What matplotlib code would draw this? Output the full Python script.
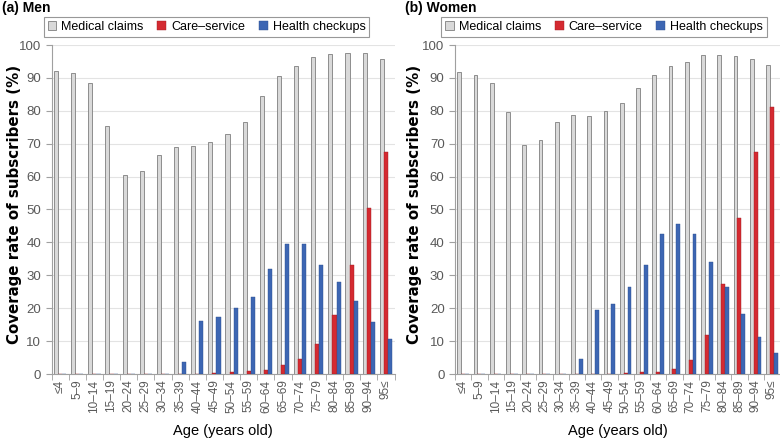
import numpy as np
import matplotlib
matplotlib.use("Agg")
import matplotlib.pyplot as plt

plt.rcParams['font.family'] = ['Liberation Sans', 'DejaVu Sans']

# age groups
ages = ["≤4", "5–9", "10–14", "15–19", "20–24", "25–29", "30–34", "35–39", "40–44",
        "45–49", "50–54", "55–59", "60–64", "65–69", "70–74", "75–79", "80–84",
        "85–89", "90–94", "95≤"]

# (a) Men
men_medical = [92.2, 91.4, 88.4, 75.3, 60.6, 61.6, 66.5, 69.1, 69.2, 70.4,
               73.0, 76.5, 84.4, 90.6, 93.7, 96.5, 97.3, 97.5, 97.5, 95.8]
men_care = [0, 0, 0, 0, 0, 0, 0, 0, 0.1, 0.3,
            0.6, 1.0, 1.3, 2.6, 4.5, 9.0, 18.0, 33.0, 50.5, 67.5]
men_checkup = [0, 0, 0, 0, 0, 0, 0, 3.7, 16.0, 17.2,
               20.0, 23.3, 31.8, 39.4, 39.4, 33.1, 27.9, 22.1, 15.9, 10.6]

# (b) Women
women_medical = [91.8, 91.0, 88.4, 79.7, 69.7, 71.2, 76.7, 78.6, 78.3, 79.8,
                 82.4, 87.0, 90.9, 93.5, 94.8, 96.9, 97.1, 96.8, 95.8, 94.0]
women_care = [0, 0, 0, 0, 0, 0, 0, 0, 0, 0.1,
              0.3, 0.5, 0.6, 1.6, 4.3, 11.8, 27.3, 47.5, 67.4, 81.3]
women_checkup = [0, 0, 0, 0, 0, 0, 0, 4.5, 19.5, 21.3,
                 26.4, 33.2, 42.7, 45.7, 42.6, 34.0, 26.5, 18.3, 11.1, 6.4]

GREY = "#d9d9d9"
RED = "#d42a31"
BLUE = "#3d66b3"
TICKC = "#595959"

fig = plt.figure(figsize=(7.8, 4.4), dpi=100)
ax1 = fig.add_axes([51.5 / 780, 1 - 374 / 440, 343 / 780, 329 / 440])
ax2 = fig.add_axes([455 / 780, 1 - 374 / 440, 325 / 780, 329 / 440])


def draw(ax, medical, care, checkup, ylab_x, leg_x):
    x = np.arange(len(ages))
    w = 0.24
    ax.bar(x - w, medical, w, color=GREY, edgecolor="#7f7f7f", linewidth=0.6,
           label="Medical claims", zorder=3)
    ax.bar(x, care, w, color=RED, edgecolor="#a01c22", linewidth=0.3,
           label="Care–service", zorder=3)
    ax.bar(x + w, checkup, w, color=BLUE, edgecolor="#2c4f8f", linewidth=0.3,
           label="Health checkups", zorder=3)
    ax.set_xlim(-0.5, len(ages) - 0.5)
    ax.set_ylim(0, 100)
    ax.set_yticks(range(0, 101, 10))
    ax.set_xticks(x)
    ax.set_xticklabels(ages, rotation=90, fontsize=8.5, color=TICKC)
    ax.set_xticks(np.arange(-0.5, len(ages)), minor=True)
    ax.tick_params(axis="x", which="major", length=0, pad=4)
    ax.tick_params(axis="x", which="minor", length=4, color="#a0a0a0")
    ax.tick_params(axis="y", labelsize=9.5, labelcolor=TICKC, length=4, color="#a0a0a0")
    ax.grid(axis="y", color="#e3e3e3", linewidth=0.8, zorder=0)
    for s in ["top", "right"]:
        ax.spines[s].set_visible(False)
    for s in ["left", "bottom"]:
        ax.spines[s].set_color("#a0a0a0")
    ax.set_ylabel("Coverage rate of subscribers (%)", fontsize=10.8, fontweight="bold",
                  family=["DejaVu Sans"])
    ax.yaxis.set_label_coords(ylab_x, 0.515)
    ax.set_xlabel("Age (years old)", fontsize=10.5, labelpad=8)
    leg = ax.legend(loc="center", bbox_to_anchor=(leg_x, 1.055), ncol=3, frameon=True,
                    fancybox=False, edgecolor="#7f7f7f", fontsize=9,
                    handlelength=0.7, handleheight=0.7, handletextpad=0.4,
                    columnspacing=1.1, borderpad=0.3, borderaxespad=0)
    leg.get_frame().set_linewidth(0.8)


draw(ax1, men_medical, men_care, men_checkup, -0.086, 0.452)
draw(ax2, women_medical, women_care, women_checkup, -0.102, 0.458)

fig.text(0.002, 1 - 8 / 440, "(a) Men", fontsize=10, fontweight="bold", va="center")
fig.text(405 / 780, 1 - 8 / 440, "(b) Women", fontsize=10, fontweight="bold", va="center")

fig.savefig("out.png", dpi=100)
